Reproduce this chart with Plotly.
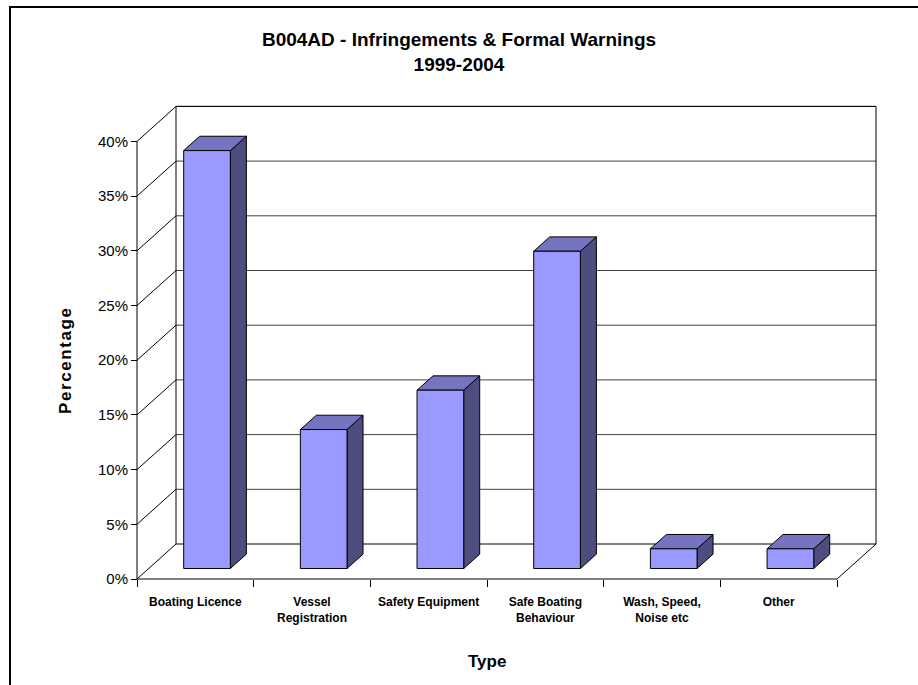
import plotly.graph_objects as go

# ---------------- data ----------------
categories = ["Boating Licence", "Vessel<br>Registration", "Safety Equipment",
              "Safe Boating<br>Behaviour", "Wash, Speed,<br>Noise etc", "Other"]
values = [38.2, 12.7, 16.3, 29.0, 1.8, 1.8]
y_tick_values = [0, 5, 10, 15, 20, 25, 30, 35, 40]
y_tick_labels = ["0%", "5%", "10%", "15%", "20%", "25%", "30%", "35%", "40%"]
y_max = 40
title_text = "B004AD - Infringements & Formal Warnings<br>1999-2004"
x_title = "Type"
y_title = "Percentage"

# ---------------- layout geometry (pixels) ----------------
W, H = 918, 685
L, R, T, B = 120, 18, 90, 95
PX_PER_CAT = 116.67
PX_PER_PCT = 10.94
ORIGIN_PX = (137, 579)          # front-left-bottom corner
DEPTH_PX = (39, 35)             # 3-D depth offset
plot_w = W - L - R
plot_h = H - T - B

x0 = -(ORIGIN_PX[0] - L) / PX_PER_CAT
x1 = x0 + plot_w / PX_PER_CAT
y0 = -((H - B) - ORIGIN_PX[1]) / PX_PER_PCT
y1 = y0 + plot_h / PX_PER_PCT
DX = DEPTH_PX[0] / PX_PER_CAT
DY = DEPTH_PX[1] / PX_PER_PCT
n = len(categories)

def px_to_paper_x(px):
    return (px - L) / plot_w

def px_to_paper_y(py):
    return ((H - B) - py) / plot_h

FONT = "Liberation Sans, Arial, sans-serif"

fig = go.Figure()

# ---------------- walls & gridlines ----------------
gx, gy = [], []
for v in y_tick_values:
    if v == 0:
        continue
    gx += [DX, n + DX, None]
    gy += [v + DY, v + DY, None]
fig.add_trace(go.Scatter(x=gx, y=gy, mode="lines",
                         line=dict(color="#404040", width=1),
                         hoverinfo="skip", showlegend=False))

wx, wy = [], []
for v in y_tick_values:
    wx += [0, DX, None]
    wy += [v, v + DY, None]
wx += [DX, DX, n + DX, n + DX, DX, None]
wy += [DY, y_max + DY, y_max + DY, DY, DY, None]
wx += [0, 0, None]
wy += [0, y_max, None]
wx += [0, n, n + DX, None]
wy += [0, 0, DY, None]
fig.add_trace(go.Scatter(x=wx, y=wy, mode="lines",
                         line=dict(color="#000000", width=1),
                         hoverinfo="skip", showlegend=False))

# ---------------- 3-D bars ----------------
f0, f1 = 0.30, 0.71
bw = 0.40
fx, fy, tx, ty, sx, sy = [], [], [], [], [], []
for i, v in enumerate(values):
    xl = i + 0.5 - bw / 2
    xr = i + 0.5 + bw / 2
    ox0, oy0 = f0 * DX, f0 * DY
    ox1, oy1 = f1 * DX, f1 * DY
    fx += [xl + ox0, xr + ox0, xr + ox0, xl + ox0, xl + ox0, None]
    fy += [oy0, oy0, v + oy0, v + oy0, oy0, None]
    tx += [xl + ox0, xr + ox0, xr + ox1, xl + ox1, xl + ox0, None]
    ty += [v + oy0, v + oy0, v + oy1, v + oy1, v + oy0, None]
    sx += [xr + ox0, xr + ox1, xr + ox1, xr + ox0, xr + ox0, None]
    sy += [oy0, oy1, v + oy1, v + oy0, oy0, None]

for xs, ys, col in [(sx, sy, "#4D4D80"), (tx, ty, "#7474C0"), (fx, fy, "#9999FF")]:
    fig.add_trace(go.Scatter(x=xs, y=ys, mode="lines", fill="toself",
                             fillcolor=col, line=dict(color="#000000", width=1),
                             hoverinfo="skip", showlegend=False))

# ---------------- axes ----------------
fig.update_xaxes(
    range=[x0, x1], anchor="free", position=(0 - y0) / (y1 - y0),
    showgrid=False, zeroline=False, showline=False,
    tickmode="array", tickvals=[i + 0.5 for i in range(n)], ticktext=categories,
    ticks="outside", ticklen=12, tickcolor="rgba(0,0,0,0)",
    tickfont=dict(family=FONT, size=12, color="#000000", weight="bold"),
    minor=dict(tickmode="array", tickvals=list(range(n + 1)), ticks="outside",
               ticklen=7, tickcolor="#000000", tickwidth=1, showgrid=False),
)
fig.update_yaxes(
    range=[y0, y1], anchor="free", position=(0 - x0) / (x1 - x0),
    showgrid=False, zeroline=False, showline=False,
    tickmode="array", tickvals=y_tick_values, ticktext=y_tick_labels,
    ticks="outside", ticklen=6, tickcolor="#000000",
    tickfont=dict(family=FONT, size=15, color="#000000"),
)

# ---------------- titles ----------------
fig.update_layout(
    width=W, height=H,
    margin=dict(l=L, r=R, t=T, b=B),
    paper_bgcolor="#FFFFFF", plot_bgcolor="#FFFFFF",
    title=dict(text=title_text, x=0.5, xref="container", xanchor="center",
               y=1 - 46 / H, yref="container", yanchor="top",
               font=dict(family=FONT, size=19, color="#000000", weight="bold")),
    annotations=[
        dict(text=x_title, xref="paper", yref="paper",
             x=px_to_paper_x(487), y=px_to_paper_y(661),
             xanchor="center", yanchor="middle", showarrow=False,
             font=dict(family=FONT, size=17, color="#000000", weight="bold")),
        dict(text='<span style="letter-spacing:1.6px">' + y_title + '</span>',
             xref="paper", yref="paper", textangle=-90,
             x=px_to_paper_x(65), y=px_to_paper_y(360),
             xanchor="center", yanchor="middle", showarrow=False,
             font=dict(family=FONT, size=17, color="#000000", weight="bold")),
    ],
    shapes=[dict(type="rect", xref="paper", yref="paper",
                 x0=px_to_paper_x(10), x1=px_to_paper_x(930),
                 y0=px_to_paper_y(700), y1=px_to_paper_y(7),
                 line=dict(color="#000000", width=2), fillcolor="rgba(0,0,0,0)",
                 layer="below")],
)

fig.write_html("out.html", config={"displayModeBar": False},
               post_script="document.body.style.margin='0';")
